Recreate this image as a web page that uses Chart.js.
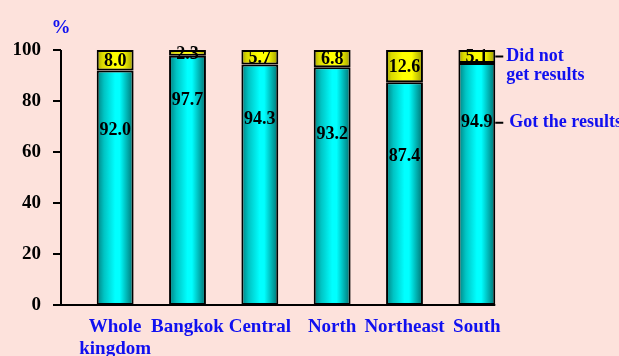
<!DOCTYPE html>
<html lang="en">
<head>
<meta charset="UTF-8">
<title>Got the results</title>
<script src="https://cdn.jsdelivr.net/npm/chart.js"></script>
<style>
  html, body { margin: 0; padding: 0; background: #fde2dc; }
  #wrap { width: 619px; height: 356px; position: relative; }
</style>
</head>
<body>
<div id="wrap"><canvas id="chart"></canvas></div>
<script>
// categories and values
const regions = [['Whole', 'kingdom'], 'Bangkok', 'Central', 'North', 'Northeast', 'South'];
const gotResults = [92.0, 97.7, 94.3, 93.2, 87.4, 94.9];
const noResults = [8.0, 2.3, 5.7, 6.8, 12.6, 5.1];
const yTicks = [0, 20, 40, 60, 80, 100];

// height (in %) where each cyan value label sits
const gotLabelAt = [68.4, 80.4, 72.9, 66.9, 58.2, 71.5];

const SERIF = '"Liberation Serif", "Times New Roman", serif';
const BLUE = '#1010f0';
const AXIS_SHIFT = 18; // y axis line sits left of the first category band
const BAR_PCT = 0.51;

// cylinder-like shading across each bar
function barGradient(stops) {
  return function (ctx) {
    const chart = ctx.chart;
    const x = chart.scales.x;
    if (!chart.chartArea || !x) return stops[3][1];
    const cx = x.getPixelForValue(ctx.dataIndex);
    const w = x.width / regions.length * BAR_PCT;
    const g = chart.ctx.createLinearGradient(cx - w / 2, 0, cx + w / 2, 0);
    stops.forEach(s => g.addColorStop(s[0], s[1]));
    return g;
  };
}

const cyanStops = [[0, '#007f7f'], [0.2, '#00c4c4'], [0.5, '#00ffff'], [0.62, '#00ffff'], [1, '#006e6e']];
const yellowStops = [[0, '#a3a300'], [0.15, '#dada00'], [0.45, '#ffff00'], [0.7, '#ffff00'], [1, '#9a9a00']];

// axis lines, tick marks, value labels and the side legend
const decorations = {
  id: 'decorations',
  afterDatasetsDraw(chart) {
    const { ctx, scales: { x, y } } = chart;
    const axisX = chart.chartArea.left - AXIS_SHIFT;
    const bars = chart.getDatasetMeta(0).data;
    const lastBar = bars[bars.length - 1];
    const rightEdge = lastBar.x + lastBar.width / 2;

    ctx.save();
    ctx.strokeStyle = '#000';
    ctx.lineWidth = 2;
    ctx.beginPath();
    ctx.moveTo(axisX, y.getPixelForValue(100));
    ctx.lineTo(axisX, y.getPixelForValue(0));
    ctx.moveTo(axisX - 8, y.getPixelForValue(0));
    ctx.lineTo(rightEdge, y.getPixelForValue(0));
    yTicks.forEach(t => {
      const py = y.getPixelForValue(t);
      ctx.moveTo(axisX - 8, py);
      ctx.lineTo(axisX, py);
    });
    ctx.stroke();

    // value labels
    ctx.fillStyle = '#000';
    ctx.font = 'bold 18px ' + SERIF;
    ctx.textAlign = 'center';
    ctx.textBaseline = 'middle';
    gotResults.forEach((v, i) => {
      const bx = x.getPixelForValue(i);
      ctx.fillText(v.toFixed(1), bx, y.getPixelForValue(gotLabelAt[i]));
      const mid = gotResults[i] + noResults[i] / 2;
      ctx.fillText(noResults[i].toFixed(1), bx, y.getPixelForValue(mid) + 1);
    });

    // side legend with leader lines
    const last = gotResults.length - 1;
    const yNo = y.getPixelForValue(gotResults[last] + noResults[last] / 2);
    const yGot = y.getPixelForValue(gotLabelAt[last]);
    ctx.beginPath();
    ctx.moveTo(rightEdge, yNo);
    ctx.lineTo(rightEdge + 8, yNo);
    ctx.moveTo(rightEdge, yGot);
    ctx.lineTo(rightEdge + 8, yGot);
    ctx.stroke();

    ctx.fillStyle = BLUE;
    ctx.textAlign = 'left';
    ctx.fillText('Did not', rightEdge + 11, yNo);
    ctx.fillText('get results', rightEdge + 11, yNo + 19);
    ctx.fillText('Got the results', rightEdge + 14, yGot);

    // unit
    ctx.font = 'bold 19px ' + SERIF;
    ctx.textAlign = 'center';
    ctx.fillText('%', axisX, 28);
    ctx.restore();
  }
};

new Chart(document.getElementById('chart'), {
  type: 'bar',
  data: {
    labels: regions,
    datasets: [
      {
        label: 'Got the results',
        data: gotResults,
        backgroundColor: barGradient(cyanStops),
        borderColor: '#000',
        borderWidth: 2,
        borderSkipped: false
      },
      {
        label: 'Did not get results',
        data: noResults,
        backgroundColor: barGradient(yellowStops),
        borderColor: '#000',
        borderWidth: 2,
        borderSkipped: false
      }
    ]
  },
  options: {
    responsive: true,
    maintainAspectRatio: false,
    animation: false,
    layout: { padding: { top: 50, right: 106, left: 0, bottom: 0 } },
    categoryPercentage: 1,
    barPercentage: BAR_PCT,
    plugins: {
      legend: { display: false },
      tooltip: { enabled: false },
      title: { display: false }
    },
    scales: {
      x: {
        stacked: true,
        grid: { display: false, drawTicks: false },
        border: { display: false },
        ticks: {
          color: BLUE,
          font: { family: SERIF, size: 19, weight: 'bold', lineHeight: 1.15 },
          padding: 11,
          maxRotation: 0,
          autoSkip: false
        },
        afterFit(scale) { scale.height = 51; }
      },
      y: {
        stacked: true,
        min: 0,
        max: 100,
        grid: { display: false, drawTicks: false },
        border: { display: false },
        afterBuildTicks(scale) { scale.ticks = yTicks.map(v => ({ value: v })); },
        ticks: {
          color: '#000',
          font: { family: SERIF, size: 19, weight: 'bold' },
          padding: 38
        },
        afterFit(scale) { scale.width = 79; }
      }
    }
  },
  plugins: [decorations]
});
</script>
</body>
</html>
